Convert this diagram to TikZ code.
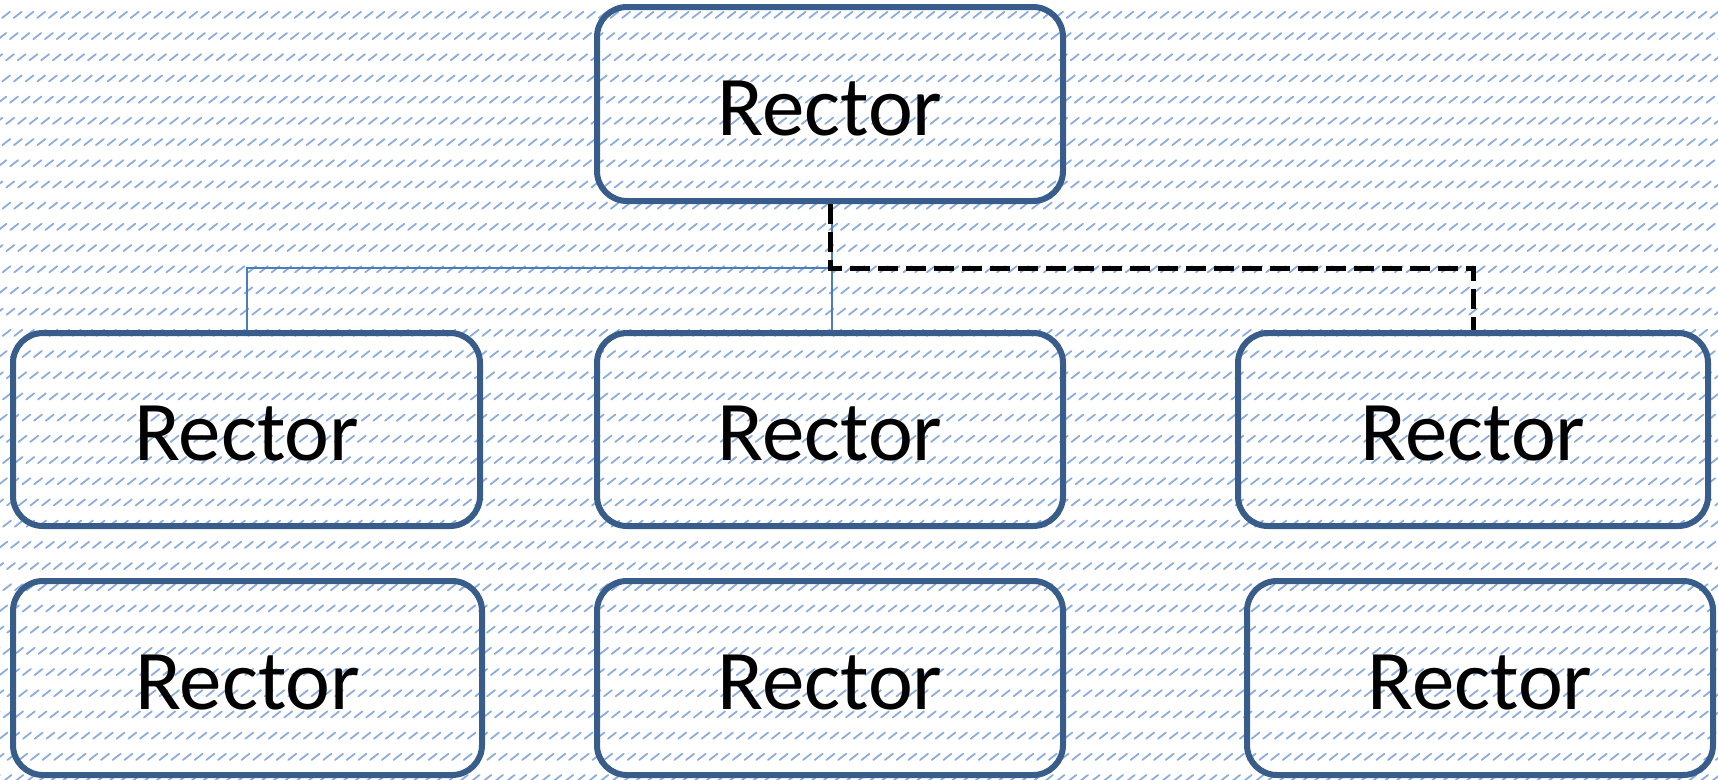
\documentclass[tikz,border=0pt]{standalone}
\usepackage{fontspec}
\setmainfont{Carlito}
\definecolor{boxblue}{RGB}{56,93,138}
\definecolor{linkblue}{RGB}{74,126,187}
\definecolor{patblue}{RGB}{140,172,224}
\begin{document}
\begin{tikzpicture}[x=1pt,y=-1pt,
  box/.style={draw=boxblue, line width=6pt, rounded corners=30pt, minimum width=467pt, minimum height=194pt, inner sep=0pt, font=\fontsize{85}{100}\selectfont, text height=62pt, text depth=0pt},
  pat/.style={patblue, line width=1.8pt, line cap=round, dash pattern=on 10pt off 24.53pt},
  link/.style={linkblue, line width=2pt},
  dlink/.style={black, line width=5pt, dash pattern=on 20pt off 8pt}]
\useasboundingbox (0,0) rectangle (1718,779);
\begin{scope}
\clip (0,0) rectangle (1718,779);
\foreach \i in {0,...,245} {\draw[pat] ({-1100+\i*11.7},802.3) -- ++(1045.3,-813);}
\end{scope}
\node[box, minimum width=466pt] (top) at (830,104) {Rector};
\node[box, minimum height=193pt] (l2) at (246.5,429.5) {Rector};
\node[box, minimum width=466pt, minimum height=193pt] (m2) at (830,429.5) {Rector};
\node[box, minimum width=470pt, minimum height=193pt] (r2) at (1473,429.5) {Rector};
\node[box, minimum width=469pt] (l3) at (247.5,678) {Rector};
\node[box, minimum width=466pt] (m3) at (830,678) {Rector};
\node[box, minimum width=466pt] (r3) at (1480,678) {Rector};
\coordinate (j) at (830,268);
\draw[link] ([xshift=1.5pt]top.south) -- ([xshift=1.5pt]m2.north);
\draw[link] ([xshift=1.5pt]top.south |- j) -| (l2.north);
\draw[dlink] (top.south) -- (top.south |- j) -| (r2.north);
\end{tikzpicture}
\end{document}
